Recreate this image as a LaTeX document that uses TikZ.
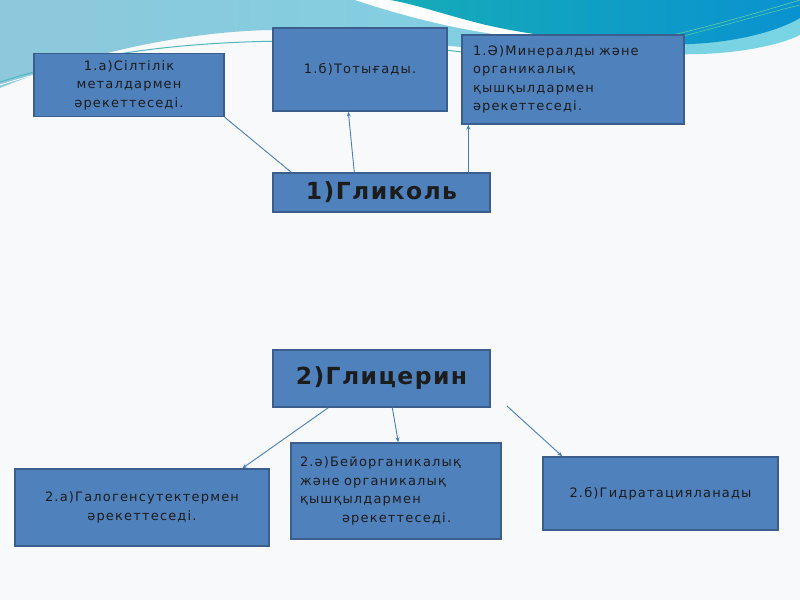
\documentclass[tikz,border=0pt]{standalone}
\usepackage{fontspec}
\setmainfont{DejaVu Sans}
\newfontfamily\boxfont{DejaVu Sans}[LetterSpace=9]
\newfontfamily\titlefont{DejaVu Sans}[LetterSpace=6]
\usetikzlibrary{arrows.meta}
\definecolor{bgc}{HTML}{F7F9FA}
\definecolor{lbL}{HTML}{8EC8DC}
\definecolor{lbR}{HTML}{78D4E4}
\definecolor{tealL}{HTML}{16ACB8}
\definecolor{tealR}{HTML}{0A92D0}
\definecolor{boxfill}{HTML}{4F81BD}
\definecolor{boxedge}{HTML}{3B5E8C}
\definecolor{txt}{HTML}{1C1C1C}
\definecolor{linkc}{HTML}{4A7EBB}
\definecolor{decoline}{HTML}{4DB8C0}
\definecolor{greenline}{HTML}{60D0A0}
\tikzset{
  bluebox/.style={draw=boxedge, fill=boxfill, line width=1.4pt, inner sep=0pt,
    text=txt, font=\boxfont\fontsize{13}{18.5}\selectfont, align=center},
  titlebox/.style={bluebox, font=\titlefont\bfseries\fontsize{23.5}{26}\selectfont},
  link/.style={draw=linkc, line width=0.9pt},
  arr/.style={link, -{Stealth[length=5pt,width=4pt]}}
}
\begin{document}
\begin{tikzpicture}[x=1pt,y=-1pt]
\useasboundingbox (0,0) rectangle (800,600);
% background
\fill[bgc] (0,0) rectangle (800,600);
\shade[left color=lbL, right color=lbR]
  (0,0) -- (800,0) -- (800,35) .. controls (780,45) and (740,53) .. (700,54)
  .. controls (620,56) and (520,52) .. (450,46)
  .. controls (380,38) and (330,30) .. (270,30)
  .. controls (180,32) and (80,55) .. (0,88) -- cycle;
\draw[decoline, line width=1pt] (0,82) .. controls (100,50) and (200,41) .. (300,41) .. controls (380,42) and (430,48) .. (470,53);
\draw[white, line width=0.8pt] (0,85) .. controls (100,53) and (200,44) .. (300,44) .. controls (380,45) and (430,51) .. (470,56);
\fill[white] (355,0) .. controls (400,15) and (450,28) .. (500,35)
  .. controls (550,42) and (600,46) .. (640,46) -- (800,10) -- (800,0) -- cycle;
\shade[left color=tealL, right color=tealR]
  (390,0) .. controls (420,5) and (460,20) .. (500,28)
  .. controls (560,40) and (630,46) .. (690,44)
  .. controls (740,42) and (780,30) .. (800,18) -- (800,0) -- cycle;
\draw[greenline, line width=0.6pt] (640,42) .. controls (700,30) and (760,12) .. (800,0);
\draw[greenline, line width=0.5pt] (660,42) .. controls (720,27) and (770,12) .. (800,5);
% boxes
\node[bluebox, minimum width=190pt, minimum height=63pt] (a1) at (129,85)
  {1.а)Сілтілік\\металдармен\\әрекеттеседі.};
\node[bluebox, minimum width=174pt, minimum height=83pt] (b1) at (360,69.5)
  {1.б)Тотығады.};
\node[bluebox, minimum width=222pt, minimum height=89pt, text width=200pt, align=left] (c1) at (573,79.5)
  {1.Ә)Минералды және\\органикалық\\қышқылдармен\\әрекеттеседі.};
\node[titlebox, minimum width=217pt, minimum height=39pt] (g1) at (381.5,192.5)
  {1)Гликоль};
\node[titlebox, minimum width=217pt, minimum height=57pt] (g2) at (381.5,378.5)
  {2)Глицерин};
\node[bluebox, minimum width=254pt, minimum height=77pt] (a2) at (142,507.5)
  {2.а)Галогенсутектермен\\әрекеттеседі.};
\node[bluebox, minimum width=210pt, minimum height=96pt, text width=192pt, align=left] (b2) at (396,491)
  {2.ә)Бейорганикалық\\және органикалық\\қышқылдармен\\\hspace*{42pt}әрекеттеседі.};
\node[bluebox, minimum width=235pt, minimum height=73pt] (c2) at (660.5,493.5)
  {2.б)Гидратацияланады};
\coordinate (s2) at (507,406);
% connectors
\draw[link] ([xshift=19pt]g1.north west) -- (a1.south east);
\draw[arr] ([xshift=82pt]g1.north west) -- ([xshift=76pt]b1.south west);
\draw[arr] ([xshift=196pt]g1.north west) -- ([xshift=7pt]c1.south west);
\draw[arr] ([xshift=56pt]g2.south west) -- ([xshift=228pt]a2.north west);
\draw[arr] ([xshift=120pt]g2.south west) -- ([xshift=108pt]b2.north west);
\draw[arr] (s2) -- ([xshift=20pt]c2.north west);
\end{tikzpicture}
\end{document}
